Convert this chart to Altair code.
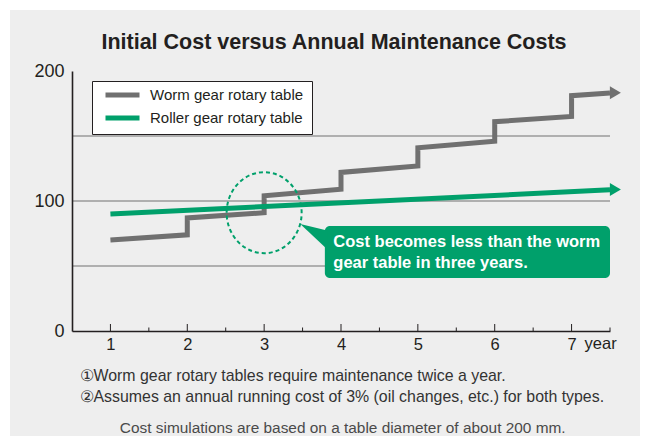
import altair as alt
import pandas as pd

# ---------------- data ----------------
title_text = "Initial Cost versus Annual Maintenance Costs"
series_names = ["Worm gear rotary table", "Roller gear rotary table"]
series_colors = ["#707070", "#00a06b"]

worm_years = [1, 2, 2, 3, 3, 4, 4, 5, 5, 6, 6, 7, 7, 7.5]
worm_costs = [70, 74, 87, 91, 104, 109, 122, 127, 141, 146, 161, 165, 181, 183]
roller_years = [1, 7.5]
roller_costs = [90, 108.6]
arrow_years = [7.57, 7.57]
arrow_costs = [183.2, 108.9]

grid_values = [50, 100, 150]
y_label_values = [0, 100, 200]
x_major_ticks = [1, 2, 3, 4, 5, 6, 7]
x_minor_ticks = [1.5, 2.5, 3.5, 4.5, 5.5, 6.5, 7.5]

circle_year = [3.0]
circle_cost = [91]

callout_years = [3.79, 7.5]
callout_costs = [80.8, 40.8]
pointer_years = [3.47, 3.82]
pointer_top = [82.3, 77.4]
pointer_bottom = [82.3, 62.8]
callout_lines = ["Cost becomes less than the worm", "gear table in three years."]
callout_text_years = [3.9, 3.9]
callout_text_costs = [64.6, 48.6]

unit_label = "year"
unit_year = 7
note_1 = "\u2460Worm gear rotary tables require maintenance twice a year."
note_2 = "\u2461Assumes an annual running cost of 3% (oil changes, etc.) for both types."
footer = "Cost simulations are based on a table diameter of about 200 mm."

# ---------------- tables ----------------
lines_df = pd.DataFrame(
    {
        "series": [series_names[0]] * len(worm_years) + [series_names[1]] * len(roller_years),
        "year": worm_years + roller_years,
        "cost": worm_costs + roller_costs,
        "idx": list(range(len(worm_years))) + list(range(len(roller_years))),
    }
)
arrow_df = pd.DataFrame({"series": series_names, "year": arrow_years, "cost": arrow_costs})
grid_df = pd.DataFrame({"v": grid_values})
major_df = pd.DataFrame({"t": x_major_ticks})
minor_df = pd.DataFrame({"t": x_minor_ticks})
circle_df = pd.DataFrame({"year": circle_year, "cost": circle_cost})
box_df = pd.DataFrame({"x1": [callout_years[0]], "x2": [callout_years[1]],
                       "y1": [callout_costs[0]], "y2": [callout_costs[1]]})
pointer_df = pd.DataFrame({"year": pointer_years, "top": pointer_top, "bottom": pointer_bottom})
ctext_df = pd.DataFrame({"year": callout_text_years, "cost": callout_text_costs, "line": callout_lines})
unit_df = pd.DataFrame({"year": [unit_year], "label": [unit_label]})
one_df = pd.DataFrame({"a": [1]})

# ---------------- styles ----------------
FONT = "Liberation Sans"
TXT = "#231f20"
GREEN = series_colors[1]
xscale = alt.Scale(domain=[0.5, 7.5], nice=False, zero=False)
yscale = alt.Scale(domain=[0, 200], nice=False, zero=False)
color_scale = alt.Scale(domain=series_names, range=series_colors)
ELLIPSE = "M-1,0 A1,1.08 0 1,1 1,0 A1,1.08 0 1,1 -1,0 Z"
HEAD = "M-0.85,-1 L0.85,0 L-0.85,1 Z"

X_AXIS = alt.Axis(values=x_major_ticks, title=None, grid=False, ticks=False,
                  domainColor=TXT, domainWidth=1.6, labelFontSize=16.5,
                  labelPadding=5, labelColor=TXT, labelFont=FONT, zindex=1)
Y_AXIS = alt.Axis(values=y_label_values, title=None, grid=False, ticks=False,
                  domainColor=TXT, domainWidth=1.6, labelFontSize=18,
                  labelPadding=8, labelColor=TXT, labelFont=FONT, zindex=1)


def X(field):
    return alt.X(field, type="quantitative", scale=xscale, axis=X_AXIS)


def Y(field):
    return alt.Y(field, type="quantitative", scale=yscale, axis=Y_AXIS)


panel = alt.Chart(one_df).mark_rect(color="#eeeeee").encode(
    x=alt.value(-62), x2=alt.value(568), y=alt.value(-61), y2=alt.value(420)
)

grid = alt.Chart(grid_df).mark_rule(color="#9a9a9a", strokeWidth=1.3).encode(y=Y("v"))

major = alt.Chart(major_df).mark_rule(color=TXT, strokeWidth=1).encode(
    x=X("t"), y=alt.value(260), y2=alt.value(253)
)
minor = alt.Chart(minor_df).mark_rule(color=TXT, strokeWidth=1).encode(
    x=X("t"), y=alt.value(260), y2=alt.value(256.5)
)

box = alt.Chart(box_df).mark_rect(color=GREEN, cornerRadius=5).encode(
    x=X("x1"), x2="x2:Q", y=Y("y1"), y2="y2:Q",
)
pointer = alt.Chart(pointer_df).mark_area(color=GREEN, opacity=1).encode(
    x=X("year"), y=Y("top"), y2="bottom:Q",
)

lines = alt.Chart(lines_df).mark_line(strokeWidth=5, strokeJoin="miter", strokeCap="butt").encode(
    x=X("year"),
    y=Y("cost"),
    color=alt.Color("series:N", scale=color_scale,
                    legend=alt.Legend(title=None, orient="none", legendX=20, legendY=10,
                                      symbolType="stroke", symbolSize=1156, symbolStrokeWidth=5,
                                      clipHeight=12, rowPadding=8, padding=8, symbolOffset=3,
                                      labelOffset=8, fillColor="white", strokeColor=TXT,
                                      labelFontSize=15, labelFont=FONT, labelColor=TXT,
                                      labelLimit=400)),
    order=alt.Order("idx:Q"),
)

heads = alt.Chart(arrow_df).mark_point(shape=HEAD, size=169, filled=True, opacity=1, strokeWidth=0).encode(
    x=X("year"),
    y=Y("cost"),
    fill=alt.Fill("series:N", scale=color_scale, legend=None),
)

circle = alt.Chart(circle_df).mark_point(
    shape=ELLIPSE, size=5625, filled=False, opacity=1, color=GREEN,
    strokeWidth=2, strokeDash=[4, 3]
).encode(x=X("year"), y=Y("cost"))

ctext = alt.Chart(ctext_df).mark_text(
    align="left", baseline="alphabetic", fontWeight="bold", fontSize=16.5, color="white", font=FONT
).encode(x=X("year"), y=Y("cost"), text="line:N")

unit = alt.Chart(unit_df).mark_text(
    align="left", baseline="top", dx=13, fontSize=16.5, color=TXT, font=FONT
).encode(x=X("year"), y=alt.value(265), text="label:N")

title = alt.Chart(one_df).mark_text(
    text=title_text, align="center", baseline="alphabetic", fontSize=21.5,
    fontWeight="bold", color=TXT, font=FONT
).encode(x=alt.value(262), y=alt.value(-22))

note1 = alt.Chart(one_df).mark_text(
    text=note_1, align="left", baseline="middle", fontSize=15.9, color="#333333", font=FONT
).encode(x=alt.value(7.5), y=alt.value(305))
note2 = alt.Chart(one_df).mark_text(
    text=note_2, align="left", baseline="middle", fontSize=15.9, color="#333333", font=FONT
).encode(x=alt.value(7.5), y=alt.value(326))

footer_text = alt.Chart(one_df).mark_text(
    text=footer, align="center", baseline="middle", fontSize=15.4, color="#4a4a4a", font=FONT
).encode(x=alt.value(270.7), y=alt.value(357))

chart = alt.layer(
    panel, grid, box, pointer, major, minor, lines, heads, circle, ctext, unit,
    title, note1, note2, footer_text
).properties(
    width=538,
    height=260,
    padding={"left": 64, "top": 63, "right": 34, "bottom": 105},
    autosize=alt.AutoSizeParams(type="none"),
).configure(background="white").configure_view(stroke=None)

chart.save("out.html", embed_options={"renderer": "svg", "actions": False})
